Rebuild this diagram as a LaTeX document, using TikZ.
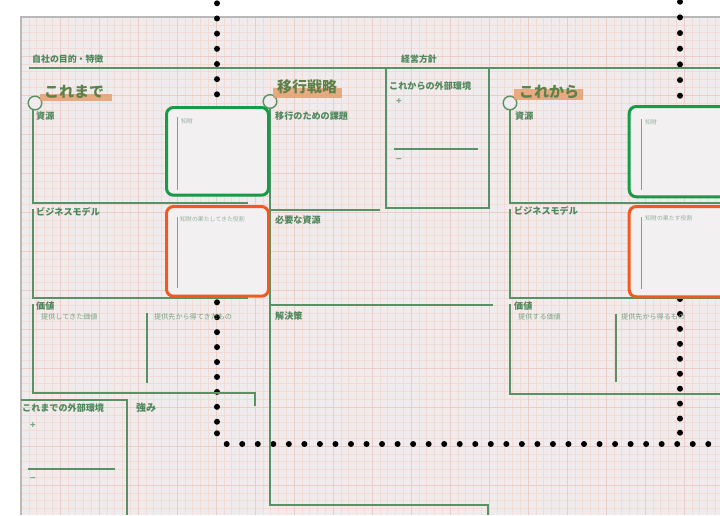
\documentclass[tikz,border=0pt]{standalone}
\usepackage{fontspec}
\setmainfont{Noto Sans CJK JP}
\begin{document}
\begin{tikzpicture}[x=1pt,y=-1pt,
  line/.style={draw=lineg,line width=1.4pt},
  thin/.style={draw=thing,line width=0.9pt},
  lbl/.style={anchor=west,inner sep=0pt,text=lblg,font=\fontsize{9.1}{10}\selectfont\bfseries},
  sub/.style={anchor=west,inner sep=0pt,text=subg,font=\fontsize{7.1}{8}\selectfont},
  tiny/.style={anchor=west,inner sep=0pt,text=tinyg,font=\fontsize{5.9}{6}\selectfont},
  big/.style={anchor=west,inner sep=0pt,text=bigg,font=\fontsize{15}{16}\selectfont\bfseries},
  hl/.style={fill=hlor,opacity=0.85},
  ring/.style={draw=lineg,line width=1.4pt,fill=paper},
  gbox/.style={draw=boxgreen,line width=3pt,rounded corners=7pt,fill=boxfill},
  obox/.style={draw=boxorange,line width=3pt,rounded corners=7pt,fill=boxfill},
  dotline/.style={draw=black,line width=6pt,line cap=round}]
\definecolor{paper}{RGB}{240,235,236}
\definecolor{gridc}{RGB}{242,218,213}
\definecolor{gridm}{RGB}{236,204,198}
\definecolor{lineg}{RGB}{88,145,100}
\definecolor{thing}{RGB}{125,165,130}
\definecolor{lblg}{RGB}{78,135,92}
\definecolor{subg}{RGB}{120,165,130}
\definecolor{tinyg}{RGB}{150,175,158}
\definecolor{bigg}{RGB}{95,128,72}
\definecolor{hlor}{RGB}{230,160,112}
\definecolor{boxgreen}{RGB}{22,155,72}
\definecolor{boxorange}{RGB}{240,90,34}
\definecolor{boxfill}{RGB}{243,240,241}
\useasboundingbox (0,0) rectangle (720,515);
\fill[white] (0,0) rectangle (720,515);
% paper
\fill[paper] (21,17) rectangle (720,515);
\begin{scope}
\clip (21,17) rectangle (720,515);
\foreach \i in {0,...,90} {
  \draw[gridc,line width=0.4pt] ({21+7.8*\i},17) -- ({21+7.8*\i},515);
}
\foreach \i in {0,...,64} {
  \draw[gridc,line width=0.4pt] (21,{17+7.8*\i}) -- (720,{17+7.8*\i});
}
\foreach \i in {0,...,18} {
  \draw[gridm,line width=0.5pt] ({21+39*\i},17) -- ({21+39*\i},515);
}
\foreach \i in {0,...,13} {
  \draw[gridm,line width=0.5pt] (21,{17+39*\i}) -- (720,{17+39*\i});
}
\end{scope}
\draw[gray!55,line width=1.3pt] (21,515) -- (21,17) -- (720,17);
% dotted path (behind boxes)
\draw[dotline,dash pattern=on 0pt off 15.17pt] (217,3.3) -- (217,94.4);
\draw[dotline,dash pattern=on 0pt off 14.93pt] (217,302.3) -- (217,421.8);
\fill (217,433.3) circle (3pt);
\draw[dotline,dash pattern=on 0pt off 15.67pt] (680,1.7) -- (680,95.8);
\draw[dotline,dash pattern=on 0pt off 14.95pt] (680,299) -- (680,418.7);
\fill (680,432.7) circle (3pt);
\draw[dotline,dash pattern=on 0pt off 15.535pt] (226.7,444) -- (726,444);
% header line
\draw[line] (29,68) -- (720,68);
\node[lbl,font=\fontsize{8.9}{9}\selectfont\bfseries] (h1) at (32,59.5) {自社の目的・特徴};
\node[lbl,font=\fontsize{8.9}{9}\selectfont\bfseries] (h2) at (401,59.5) {経営方針};
% left column
\draw[line] (33,110) -- (33,203) -- (248,203);
\draw[line] (33,209) -- (33,298) -- (248,298);
\draw[line] (33,304) -- (33,393) -- (255,393) -- (255,406);
\draw[line] (147,313) -- (147,383);
\draw[line] (21,400) -- (127,400) -- (127,515);
\draw[line] (28,469) -- (115,469);
% middle column
\draw[line] (270,108) -- (270,505) -- (488,505) -- (488,515);
\draw[line] (270,210) -- (380,210);
\draw[line] (270,305) -- (493,305);
\draw[line] (386,68) -- (386,208) -- (489,208) -- (489,68);
\draw[line] (394,149) -- (478,149);
% right column
\draw[line] (510,110) -- (510,203) -- (720,203);
\draw[line] (510,209) -- (510,298) -- (720,298);
\draw[line] (510,304) -- (510,394) -- (720,394);
\draw[line] (616,314) -- (616,382);
% rings
\draw[ring] (35,103) circle (6.8);
\draw[ring] (270,101.5) circle (6.8);
\draw[ring] (510,103) circle (6.8);
% highlights and big titles
\fill[hl] (40,93.5) rectangle (112,101);
\fill[hl] (273,87.5) rectangle (342,98);
\fill[hl] (514,89) rectangle (583,99.5);
\node[big] (t1) at (44,92) {これまで};
\node[big] (t2) at (277,87) {移行戦略};
\node[big] (t3) at (519,92) {これから};
% labels
\node[lbl] (l1) at (36,116) {資源};
\node[lbl] (l2) at (36,212) {ビジネスモデル};
\node[lbl] (l3) at (36,306) {価値};
\node[sub] (s1) at (41,317) {提供してきた価値};
\node[sub] (s2) at (154,317) {提供先から得てきたもの};
\node[lbl] (l4) at (22,408) {これまでの外部環境};
\node[lbl,font=\fontsize{10}{11}\selectfont\bfseries] (l5) at (136,408) {強み};
\node[lbl,text=subg] (p1) at (30,426) {+};
\node[lbl,text=subg] (m1) at (30,479) {−};
\node[lbl] (c1) at (275,116) {移行のための課題};
\node[lbl] (c2) at (275,220) {必要な資源};
\node[lbl] (c3) at (275,316) {解決策};
\node[lbl] (e1) at (389,86) {これからの外部環境};
\node[lbl,text=subg] (p2) at (396,102) {+};
\node[lbl,text=subg] (m2) at (396,160) {−};
\node[lbl] (r1) at (515,116) {資源};
\node[lbl] (r2) at (514,211) {ビジネスモデル};
\node[lbl] (r3) at (514,306) {価値};
\node[sub] (s3) at (518,317) {提供する価値};
\node[sub] (s4) at (621,317) {提供先から得るもの};
% boxes
\path[gbox] (166.5,107.5) rectangle (268.5,195.2);
\path[obox] (166.5,206.5) rectangle (268.5,296.2);
\path[gbox] (629.2,106.5) rectangle (760,196.8);
\path[obox] (629.2,206.5) rectangle (760,296.8);
\draw[thin] (177,117) -- (177,190);
\draw[thin] (177,217) -- (177,288);
\draw[thin] (641,119) -- (641,190);
\draw[thin] (641,217) -- (641,289);
\node[tiny] (k1) at (181,121) {知財};
\node[tiny] (k2) at (180,219) {知財の果たしてきた役割};
\node[tiny] (k3) at (645,122) {知財};
\node[tiny] (k4) at (645,218) {知財の果たす役割};
\end{tikzpicture}
\end{document}
